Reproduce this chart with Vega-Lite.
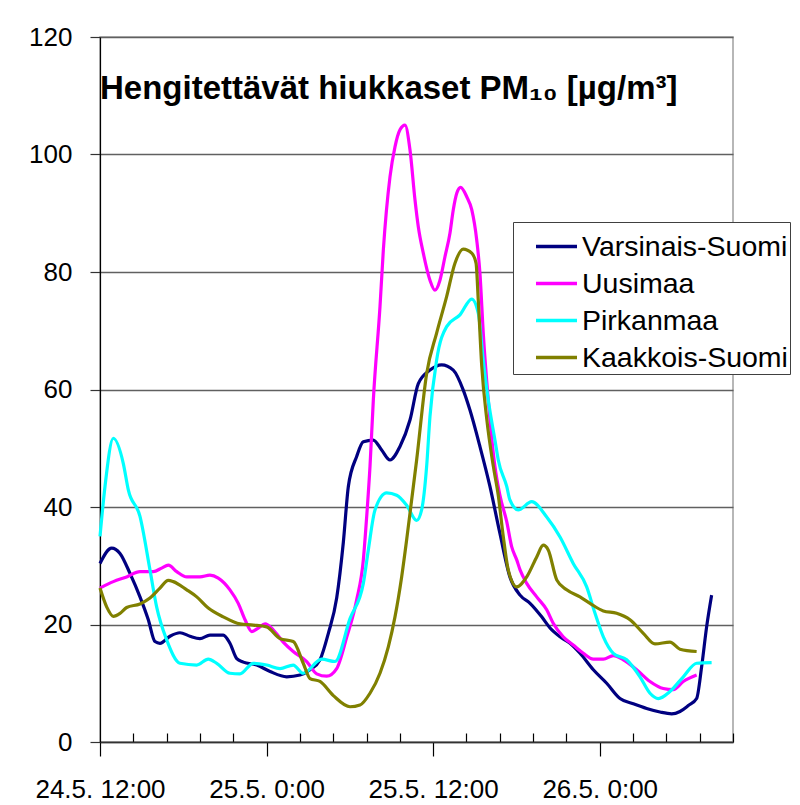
{
  "$schema": "https://vega.github.io/schema/vega-lite/v6.json",
  "width": 633,
  "height": 705,
  "autosize": "none",
  "padding": {"left": 100, "top": 37, "right": 67, "bottom": 63},
  "background": "white",
  "config": {
    "font": "Liberation Sans",
    "view": {"stroke": "#a0a0a0", "strokeWidth": 1.5}
  },
  "title": {
    "text": "Hengitettävät hiukkaset PM₁₀ [µg/m³]",
    "anchor": "start",
    "frame": "group",
    "orient": "top",
    "font": "Liberation Sans",
    "fontSize": 33,
    "fontWeight": "bold",
    "color": "black",
    "baseline": "alphabetic",
    "offset": 0,
    "dy": 108
  },
  "datasets": {
    "pm": [
      {"t": 0, "v": 30.4, "s": "Varsinais-Suomi"},
      {"t": 0.84, "v": 33, "s": "Varsinais-Suomi"},
      {"t": 1.44, "v": 32.1, "s": "Varsinais-Suomi"},
      {"t": 2.16, "v": 28.7, "s": "Varsinais-Suomi"},
      {"t": 2.88, "v": 24.7, "s": "Varsinais-Suomi"},
      {"t": 3.48, "v": 20.8, "s": "Varsinais-Suomi"},
      {"t": 3.96, "v": 17.1, "s": "Varsinais-Suomi"},
      {"t": 4.32, "v": 16.8, "s": "Varsinais-Suomi"},
      {"t": 5.04, "v": 18, "s": "Varsinais-Suomi"},
      {"t": 5.76, "v": 18.6, "s": "Varsinais-Suomi"},
      {"t": 6.48, "v": 18, "s": "Varsinais-Suomi"},
      {"t": 7.2, "v": 17.6, "s": "Varsinais-Suomi"},
      {"t": 7.92, "v": 18.2, "s": "Varsinais-Suomi"},
      {"t": 8.88, "v": 18.2, "s": "Varsinais-Suomi"},
      {"t": 9.36, "v": 16.8, "s": "Varsinais-Suomi"},
      {"t": 9.85, "v": 14.2, "s": "Varsinais-Suomi"},
      {"t": 10.32, "v": 13.6, "s": "Varsinais-Suomi"},
      {"t": 11.29, "v": 13.1, "s": "Varsinais-Suomi"},
      {"t": 12.25, "v": 12, "s": "Varsinais-Suomi"},
      {"t": 13.45, "v": 11.1, "s": "Varsinais-Suomi"},
      {"t": 14.41, "v": 11.4, "s": "Varsinais-Suomi"},
      {"t": 15.13, "v": 12.3, "s": "Varsinais-Suomi"},
      {"t": 15.85, "v": 14, "s": "Varsinais-Suomi"},
      {"t": 16.45, "v": 18.5, "s": "Varsinais-Suomi"},
      {"t": 17.05, "v": 24.5, "s": "Varsinais-Suomi"},
      {"t": 17.53, "v": 34, "s": "Varsinais-Suomi"},
      {"t": 17.89, "v": 43.5, "s": "Varsinais-Suomi"},
      {"t": 18.49, "v": 48.6, "s": "Varsinais-Suomi"},
      {"t": 18.97, "v": 51.1, "s": "Varsinais-Suomi"},
      {"t": 19.69, "v": 51.4, "s": "Varsinais-Suomi"},
      {"t": 20.29, "v": 49.7, "s": "Varsinais-Suomi"},
      {"t": 20.89, "v": 48, "s": "Varsinais-Suomi"},
      {"t": 21.61, "v": 50.3, "s": "Varsinais-Suomi"},
      {"t": 22.33, "v": 54.8, "s": "Varsinais-Suomi"},
      {"t": 22.93, "v": 61, "s": "Varsinais-Suomi"},
      {"t": 23.77, "v": 63.3, "s": "Varsinais-Suomi"},
      {"t": 24.61, "v": 64.2, "s": "Varsinais-Suomi"},
      {"t": 25.45, "v": 63.3, "s": "Varsinais-Suomi"},
      {"t": 26.17, "v": 59.9, "s": "Varsinais-Suomi"},
      {"t": 26.65, "v": 56.5, "s": "Varsinais-Suomi"},
      {"t": 27.37, "v": 50.3, "s": "Varsinais-Suomi"},
      {"t": 28.09, "v": 43.5, "s": "Varsinais-Suomi"},
      {"t": 28.81, "v": 35.5, "s": "Varsinais-Suomi"},
      {"t": 29.53, "v": 28.1, "s": "Varsinais-Suomi"},
      {"t": 30.26, "v": 25, "s": "Varsinais-Suomi"},
      {"t": 30.98, "v": 23.6, "s": "Varsinais-Suomi"},
      {"t": 31.82, "v": 21.3, "s": "Varsinais-Suomi"},
      {"t": 32.42, "v": 19.4, "s": "Varsinais-Suomi"},
      {"t": 33.14, "v": 17.9, "s": "Varsinais-Suomi"},
      {"t": 33.86, "v": 16.8, "s": "Varsinais-Suomi"},
      {"t": 34.58, "v": 15.1, "s": "Varsinais-Suomi"},
      {"t": 35.54, "v": 12.3, "s": "Varsinais-Suomi"},
      {"t": 36.5, "v": 10, "s": "Varsinais-Suomi"},
      {"t": 37.46, "v": 7.4, "s": "Varsinais-Suomi"},
      {"t": 38.42, "v": 6.5, "s": "Varsinais-Suomi"},
      {"t": 39.38, "v": 5.7, "s": "Varsinais-Suomi"},
      {"t": 40.34, "v": 5.1, "s": "Varsinais-Suomi"},
      {"t": 41.18, "v": 4.8, "s": "Varsinais-Suomi"},
      {"t": 41.78, "v": 5.2, "s": "Varsinais-Suomi"},
      {"t": 42.38, "v": 6.2, "s": "Varsinais-Suomi"},
      {"t": 42.98, "v": 7.4, "s": "Varsinais-Suomi"},
      {"t": 43.34, "v": 12.8, "s": "Varsinais-Suomi"},
      {"t": 43.7, "v": 19.6, "s": "Varsinais-Suomi"},
      {"t": 44.06, "v": 25, "s": "Varsinais-Suomi"},

      {"t": 0, "v": 26.2, "s": "Uusimaa"},
      {"t": 0.96, "v": 27.3, "s": "Uusimaa"},
      {"t": 1.92, "v": 28.1, "s": "Uusimaa"},
      {"t": 2.88, "v": 29, "s": "Uusimaa"},
      {"t": 3.84, "v": 29, "s": "Uusimaa"},
      {"t": 4.44, "v": 29.6, "s": "Uusimaa"},
      {"t": 4.92, "v": 30.1, "s": "Uusimaa"},
      {"t": 5.53, "v": 29, "s": "Uusimaa"},
      {"t": 6.25, "v": 28.1, "s": "Uusimaa"},
      {"t": 7.2, "v": 28.1, "s": "Uusimaa"},
      {"t": 7.92, "v": 28.4, "s": "Uusimaa"},
      {"t": 8.52, "v": 27.9, "s": "Uusimaa"},
      {"t": 9.36, "v": 25.9, "s": "Uusimaa"},
      {"t": 9.96, "v": 23.6, "s": "Uusimaa"},
      {"t": 10.45, "v": 20.8, "s": "Uusimaa"},
      {"t": 10.93, "v": 18.8, "s": "Uusimaa"},
      {"t": 11.4, "v": 19.4, "s": "Uusimaa"},
      {"t": 11.89, "v": 20.1, "s": "Uusimaa"},
      {"t": 12.48, "v": 19.1, "s": "Uusimaa"},
      {"t": 13.2, "v": 17, "s": "Uusimaa"},
      {"t": 13.92, "v": 15.4, "s": "Uusimaa"},
      {"t": 14.89, "v": 13.7, "s": "Uusimaa"},
      {"t": 15.61, "v": 11.6, "s": "Uusimaa"},
      {"t": 16.33, "v": 11.2, "s": "Uusimaa"},
      {"t": 17.05, "v": 12.5, "s": "Uusimaa"},
      {"t": 17.77, "v": 17.8, "s": "Uusimaa"},
      {"t": 18.49, "v": 24.2, "s": "Uusimaa"},
      {"t": 18.97, "v": 31, "s": "Uusimaa"},
      {"t": 19.21, "v": 38.3, "s": "Uusimaa"},
      {"t": 19.45, "v": 46.9, "s": "Uusimaa"},
      {"t": 19.69, "v": 58.2, "s": "Uusimaa"},
      {"t": 20.17, "v": 74.1, "s": "Uusimaa"},
      {"t": 20.41, "v": 83.7, "s": "Uusimaa"},
      {"t": 20.89, "v": 96.2, "s": "Uusimaa"},
      {"t": 21.25, "v": 101.3, "s": "Uusimaa"},
      {"t": 21.61, "v": 104.2, "s": "Uusimaa"},
      {"t": 21.97, "v": 105, "s": "Uusimaa"},
      {"t": 22.33, "v": 100.8, "s": "Uusimaa"},
      {"t": 22.69, "v": 92.3, "s": "Uusimaa"},
      {"t": 22.93, "v": 87.7, "s": "Uusimaa"},
      {"t": 23.29, "v": 83.2, "s": "Uusimaa"},
      {"t": 23.77, "v": 78.6, "s": "Uusimaa"},
      {"t": 24.13, "v": 76.9, "s": "Uusimaa"},
      {"t": 24.49, "v": 78.6, "s": "Uusimaa"},
      {"t": 24.85, "v": 82.6, "s": "Uusimaa"},
      {"t": 25.21, "v": 86.6, "s": "Uusimaa"},
      {"t": 25.45, "v": 90.6, "s": "Uusimaa"},
      {"t": 25.7, "v": 93.4, "s": "Uusimaa"},
      {"t": 25.98, "v": 94.4, "s": "Uusimaa"},
      {"t": 26.42, "v": 92.8, "s": "Uusimaa"},
      {"t": 26.78, "v": 90.6, "s": "Uusimaa"},
      {"t": 27.14, "v": 85.4, "s": "Uusimaa"},
      {"t": 27.37, "v": 79.8, "s": "Uusimaa"},
      {"t": 27.61, "v": 69.6, "s": "Uusimaa"},
      {"t": 27.97, "v": 58.2, "s": "Uusimaa"},
      {"t": 28.45, "v": 46.9, "s": "Uusimaa"},
      {"t": 28.81, "v": 42, "s": "Uusimaa"},
      {"t": 29.3, "v": 37.5, "s": "Uusimaa"},
      {"t": 29.66, "v": 33.2, "s": "Uusimaa"},
      {"t": 30.02, "v": 31, "s": "Uusimaa"},
      {"t": 30.26, "v": 29.3, "s": "Uusimaa"},
      {"t": 30.74, "v": 27, "s": "Uusimaa"},
      {"t": 31.46, "v": 24.7, "s": "Uusimaa"},
      {"t": 32.18, "v": 22.5, "s": "Uusimaa"},
      {"t": 32.65, "v": 20.2, "s": "Uusimaa"},
      {"t": 33.37, "v": 17.9, "s": "Uusimaa"},
      {"t": 34.09, "v": 16.5, "s": "Uusimaa"},
      {"t": 34.82, "v": 15.1, "s": "Uusimaa"},
      {"t": 35.54, "v": 14.1, "s": "Uusimaa"},
      {"t": 36.26, "v": 14.1, "s": "Uusimaa"},
      {"t": 36.98, "v": 14.7, "s": "Uusimaa"},
      {"t": 37.7, "v": 14, "s": "Uusimaa"},
      {"t": 38.66, "v": 12.3, "s": "Uusimaa"},
      {"t": 39.62, "v": 10.3, "s": "Uusimaa"},
      {"t": 40.58, "v": 9.1, "s": "Uusimaa"},
      {"t": 41.3, "v": 8.9, "s": "Uusimaa"},
      {"t": 42.02, "v": 10.3, "s": "Uusimaa"},
      {"t": 42.98, "v": 11.4, "s": "Uusimaa"},

      {"t": 0, "v": 35, "s": "Pirkanmaa"},
      {"t": 0.36, "v": 43.5, "s": "Pirkanmaa"},
      {"t": 0.96, "v": 51.7, "s": "Pirkanmaa"},
      {"t": 1.68, "v": 47.4, "s": "Pirkanmaa"},
      {"t": 2.04, "v": 42.9, "s": "Pirkanmaa"},
      {"t": 2.88, "v": 38.4, "s": "Pirkanmaa"},
      {"t": 3.6, "v": 29.3, "s": "Pirkanmaa"},
      {"t": 4.08, "v": 23, "s": "Pirkanmaa"},
      {"t": 4.8, "v": 17.4, "s": "Pirkanmaa"},
      {"t": 5.76, "v": 13.4, "s": "Pirkanmaa"},
      {"t": 6.97, "v": 13.1, "s": "Pirkanmaa"},
      {"t": 7.8, "v": 14.1, "s": "Pirkanmaa"},
      {"t": 8.41, "v": 13.4, "s": "Pirkanmaa"},
      {"t": 9.36, "v": 11.7, "s": "Pirkanmaa"},
      {"t": 10.08, "v": 11.6, "s": "Pirkanmaa"},
      {"t": 11.04, "v": 13.4, "s": "Pirkanmaa"},
      {"t": 12.01, "v": 13.1, "s": "Pirkanmaa"},
      {"t": 12.97, "v": 12.5, "s": "Pirkanmaa"},
      {"t": 13.92, "v": 13.1, "s": "Pirkanmaa"},
      {"t": 14.64, "v": 11.7, "s": "Pirkanmaa"},
      {"t": 15.97, "v": 14.1, "s": "Pirkanmaa"},
      {"t": 16.93, "v": 13.7, "s": "Pirkanmaa"},
      {"t": 18.01, "v": 21, "s": "Pirkanmaa"},
      {"t": 18.97, "v": 27, "s": "Pirkanmaa"},
      {"t": 19.33, "v": 32.7, "s": "Pirkanmaa"},
      {"t": 19.81, "v": 39.5, "s": "Pirkanmaa"},
      {"t": 20.65, "v": 42.4, "s": "Pirkanmaa"},
      {"t": 21.37, "v": 42, "s": "Pirkanmaa"},
      {"t": 22.09, "v": 40.3, "s": "Pirkanmaa"},
      {"t": 22.81, "v": 37.7, "s": "Pirkanmaa"},
      {"t": 23.17, "v": 39.5, "s": "Pirkanmaa"},
      {"t": 23.53, "v": 46.9, "s": "Pirkanmaa"},
      {"t": 23.77, "v": 55.4, "s": "Pirkanmaa"},
      {"t": 24.25, "v": 65, "s": "Pirkanmaa"},
      {"t": 24.97, "v": 70.7, "s": "Pirkanmaa"},
      {"t": 25.93, "v": 72.7, "s": "Pirkanmaa"},
      {"t": 26.78, "v": 75.4, "s": "Pirkanmaa"},
      {"t": 27.25, "v": 73, "s": "Pirkanmaa"},
      {"t": 27.61, "v": 65, "s": "Pirkanmaa"},
      {"t": 27.97, "v": 58.2, "s": "Pirkanmaa"},
      {"t": 28.45, "v": 51.4, "s": "Pirkanmaa"},
      {"t": 28.69, "v": 48, "s": "Pirkanmaa"},
      {"t": 29.3, "v": 43.5, "s": "Pirkanmaa"},
      {"t": 29.53, "v": 41.2, "s": "Pirkanmaa"},
      {"t": 30.13, "v": 39.5, "s": "Pirkanmaa"},
      {"t": 31.1, "v": 40.9, "s": "Pirkanmaa"},
      {"t": 32.18, "v": 38.3, "s": "Pirkanmaa"},
      {"t": 33.14, "v": 34.9, "s": "Pirkanmaa"},
      {"t": 34.09, "v": 30.4, "s": "Pirkanmaa"},
      {"t": 35.06, "v": 26.4, "s": "Pirkanmaa"},
      {"t": 35.66, "v": 21.9, "s": "Pirkanmaa"},
      {"t": 36.26, "v": 17.9, "s": "Pirkanmaa"},
      {"t": 36.98, "v": 15.1, "s": "Pirkanmaa"},
      {"t": 37.94, "v": 14, "s": "Pirkanmaa"},
      {"t": 38.9, "v": 11.1, "s": "Pirkanmaa"},
      {"t": 39.62, "v": 8.3, "s": "Pirkanmaa"},
      {"t": 40.22, "v": 7.4, "s": "Pirkanmaa"},
      {"t": 41.06, "v": 8.6, "s": "Pirkanmaa"},
      {"t": 42.02, "v": 11.1, "s": "Pirkanmaa"},
      {"t": 42.98, "v": 13.4, "s": "Pirkanmaa"},
      {"t": 44.06, "v": 13.5, "s": "Pirkanmaa"},

      {"t": 0, "v": 26.2, "s": "Kaakkois-Suomi"},
      {"t": 0.48, "v": 23, "s": "Kaakkois-Suomi"},
      {"t": 0.96, "v": 21.4, "s": "Kaakkois-Suomi"},
      {"t": 1.44, "v": 21.9, "s": "Kaakkois-Suomi"},
      {"t": 1.92, "v": 22.9, "s": "Kaakkois-Suomi"},
      {"t": 2.88, "v": 23.5, "s": "Kaakkois-Suomi"},
      {"t": 3.6, "v": 24.5, "s": "Kaakkois-Suomi"},
      {"t": 4.32, "v": 26.2, "s": "Kaakkois-Suomi"},
      {"t": 4.92, "v": 27.5, "s": "Kaakkois-Suomi"},
      {"t": 5.28, "v": 27.3, "s": "Kaakkois-Suomi"},
      {"t": 6.25, "v": 25.9, "s": "Kaakkois-Suomi"},
      {"t": 6.97, "v": 24.7, "s": "Kaakkois-Suomi"},
      {"t": 7.8, "v": 22.8, "s": "Kaakkois-Suomi"},
      {"t": 8.88, "v": 21.3, "s": "Kaakkois-Suomi"},
      {"t": 10.08, "v": 20.1, "s": "Kaakkois-Suomi"},
      {"t": 11.04, "v": 19.9, "s": "Kaakkois-Suomi"},
      {"t": 12.01, "v": 19.6, "s": "Kaakkois-Suomi"},
      {"t": 12.97, "v": 17.6, "s": "Kaakkois-Suomi"},
      {"t": 13.92, "v": 17.1, "s": "Kaakkois-Suomi"},
      {"t": 14.64, "v": 13.4, "s": "Kaakkois-Suomi"},
      {"t": 15.13, "v": 10.8, "s": "Kaakkois-Suomi"},
      {"t": 15.85, "v": 10.3, "s": "Kaakkois-Suomi"},
      {"t": 16.81, "v": 7.9, "s": "Kaakkois-Suomi"},
      {"t": 18.01, "v": 6, "s": "Kaakkois-Suomi"},
      {"t": 18.73, "v": 6.3, "s": "Kaakkois-Suomi"},
      {"t": 19.45, "v": 8.3, "s": "Kaakkois-Suomi"},
      {"t": 20.17, "v": 11.7, "s": "Kaakkois-Suomi"},
      {"t": 20.77, "v": 16.2, "s": "Kaakkois-Suomi"},
      {"t": 21.25, "v": 21.3, "s": "Kaakkois-Suomi"},
      {"t": 21.73, "v": 28.1, "s": "Kaakkois-Suomi"},
      {"t": 22.09, "v": 34.4, "s": "Kaakkois-Suomi"},
      {"t": 22.45, "v": 41.2, "s": "Kaakkois-Suomi"},
      {"t": 22.81, "v": 48, "s": "Kaakkois-Suomi"},
      {"t": 23.53, "v": 62.7, "s": "Kaakkois-Suomi"},
      {"t": 24.25, "v": 69.6, "s": "Kaakkois-Suomi"},
      {"t": 24.97, "v": 75.8, "s": "Kaakkois-Suomi"},
      {"t": 25.57, "v": 81.5, "s": "Kaakkois-Suomi"},
      {"t": 26.17, "v": 83.9, "s": "Kaakkois-Suomi"},
      {"t": 26.78, "v": 83.2, "s": "Kaakkois-Suomi"},
      {"t": 27.09, "v": 81.5, "s": "Kaakkois-Suomi"},
      {"t": 27.25, "v": 75.2, "s": "Kaakkois-Suomi"},
      {"t": 27.5, "v": 64, "s": "Kaakkois-Suomi"},
      {"t": 27.86, "v": 55, "s": "Kaakkois-Suomi"},
      {"t": 28.33, "v": 47, "s": "Kaakkois-Suomi"},
      {"t": 28.69, "v": 42, "s": "Kaakkois-Suomi"},
      {"t": 29.05, "v": 35, "s": "Kaakkois-Suomi"},
      {"t": 29.41, "v": 29.3, "s": "Kaakkois-Suomi"},
      {"t": 30.02, "v": 26.4, "s": "Kaakkois-Suomi"},
      {"t": 30.74, "v": 28.1, "s": "Kaakkois-Suomi"},
      {"t": 31.46, "v": 31.5, "s": "Kaakkois-Suomi"},
      {"t": 31.93, "v": 33.5, "s": "Kaakkois-Suomi"},
      {"t": 32.29, "v": 32.7, "s": "Kaakkois-Suomi"},
      {"t": 32.9, "v": 27.6, "s": "Kaakkois-Suomi"},
      {"t": 33.62, "v": 25.9, "s": "Kaakkois-Suomi"},
      {"t": 34.58, "v": 24.7, "s": "Kaakkois-Suomi"},
      {"t": 35.3, "v": 23.6, "s": "Kaakkois-Suomi"},
      {"t": 36.26, "v": 22.3, "s": "Kaakkois-Suomi"},
      {"t": 37.22, "v": 21.9, "s": "Kaakkois-Suomi"},
      {"t": 38.18, "v": 20.8, "s": "Kaakkois-Suomi"},
      {"t": 39.14, "v": 18.5, "s": "Kaakkois-Suomi"},
      {"t": 39.98, "v": 16.7, "s": "Kaakkois-Suomi"},
      {"t": 41.06, "v": 17, "s": "Kaakkois-Suomi"},
      {"t": 41.78, "v": 15.8, "s": "Kaakkois-Suomi"},
      {"t": 42.98, "v": 15.4, "s": "Kaakkois-Suomi"}
    ]
  },
  "data": {"name": "pm"},
  "mark": {"type": "line", "interpolate": "monotone", "strokeWidth": 3.2},
  "encoding": {
    "x": {
      "field": "t",
      "type": "quantitative",
      "scale": {"domain": [0, 45.6], "nice": false, "zero": false},
      "axis": {
        "title": null,
        "grid": false,
        "values": [0, 2.4, 4.8, 7.2, 9.6, 12, 14.4, 16.8, 19.2, 21.6, 24, 26.4, 28.8, 31.2, 33.6, 36, 38.4, 40.8, 43.2, 45.6],
        "labelExpr": "datum.value == 0 ? '24.5. 12:00' : datum.value == 12 ? '25.5. 0:00' : datum.value == 24 ? '25.5. 12:00' : datum.value == 36 ? '26.5. 0:00' : ''",
        "tickSize": {"condition": {"test": "datum.value % 12 == 0", "value": 14}, "value": -9},
        "tickColor": "black",
        "tickWidth": 1.2,
        "domainColor": "#333333",
        "domainWidth": 1.5,
        "labelFont": "Liberation Sans",
        "labelFontSize": 26,
        "labelColor": "black",
        "labelPadding": 20,
        "labelFlush": false,
        "labelOverlap": false
      }
    },
    "y": {
      "field": "v",
      "type": "quantitative",
      "scale": {"domain": [0, 120], "nice": false},
      "axis": {
        "title": null,
        "values": [0, 20, 40, 60, 80, 100, 120],
        "grid": true,
        "gridColor": "#606060",
        "gridWidth": 1.3,
        "tickSize": 10,
        "tickColor": "#333333",
        "tickWidth": 1.2,
        "domainColor": "black",
        "domainWidth": 1.2,
        "labelFont": "Liberation Sans",
        "labelFontSize": 26,
        "labelColor": "black",
        "labelPadding": 18
      }
    },
    "color": {
      "field": "s",
      "type": "nominal",
      "scale": {
        "domain": ["Varsinais-Suomi", "Uusimaa", "Pirkanmaa", "Kaakkois-Suomi"],
        "range": ["#000080", "#ff00ff", "#00ffff", "#808000"]
      },
      "legend": {
        "title": null,
        "orient": "none",
        "legendX": 413,
        "legendY": 185,
        "symbolType": "stroke",
        "symbolSize": 1681,
        "symbolStrokeWidth": 3.5,
        "symbolOffset": 19,
        "labelOffset": 3,
        "labelFont": "Liberation Sans",
        "labelFontSize": 28.5,
        "labelColor": "black",
        "labelLimit": 400,
        "rowPadding": 0,
        "padding": 2,
        "strokeColor": "#404040",
        "fillColor": "white"
      }
    }
  }
}
